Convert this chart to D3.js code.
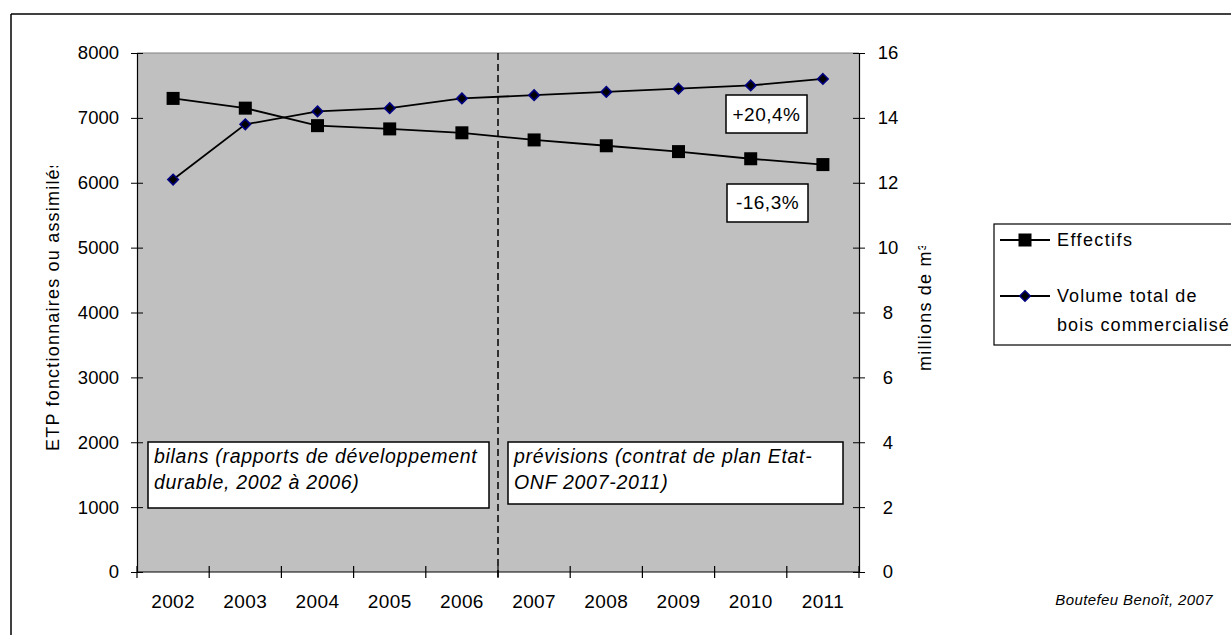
<!DOCTYPE html>
<html>
<head>
<meta charset="utf-8">
<script src="https://cdn.jsdelivr.net/npm/d3@7"></script>
<style>
  body { margin: 0; background: #fff; }
  svg { display: block; font-family: "Liberation Sans", Arial, sans-serif; }
</style>
</head>
<body>
<svg width="1231" height="635"></svg>
<script>
// data
const years = ["2002", "2003", "2004", "2005", "2006", "2007", "2008", "2009", "2010", "2011"];
const effectifs = [7300, 7150, 6880, 6830, 6770, 6660, 6570, 6480, 6370, 6280];
const volume = [12.1, 13.8, 14.2, 14.3, 14.6, 14.7, 14.8, 14.9, 15.0, 15.2];
const leftTicks = [0, 1000, 2000, 3000, 4000, 5000, 6000, 7000, 8000];
const rightTicks = [0, 2, 4, 6, 8, 10, 12, 14, 16];

const svg = d3.select("svg");
const pLeft = 137, pRight = 859, pTop = 53, pBottom = 572;

const x = d3.scaleBand().domain(years).range([pLeft, pRight]).padding(0);
const yL = d3.scaleLinear().domain([0, 8000]).range([pBottom, pTop]);
const yR = d3.scaleLinear().domain([0, 16]).range([pBottom, pTop]);

// outer frame (only top and left visible)
svg.append("line").attr("x1", 11).attr("x2", 1231).attr("y1", 14).attr("y2", 14)
  .attr("stroke", "#000").attr("stroke-width", 1.5);
svg.append("line").attr("x1", 11).attr("x2", 11).attr("y1", 14).attr("y2", 635)
  .attr("stroke", "#000").attr("stroke-width", 1.5);

// plot background
svg.append("rect")
  .attr("x", pLeft).attr("y", pTop)
  .attr("width", pRight - pLeft).attr("height", pBottom - pTop)
  .attr("fill", "#c0c0c0");
svg.append("line").attr("x1", pLeft).attr("x2", pRight).attr("y1", pTop).attr("y2", pTop)
  .attr("stroke", "#808080").attr("stroke-width", 1);

// axes
const fs = "18.5px";
const gL = svg.append("g").attr("transform", `translate(${pLeft},0)`)
  .call(d3.axisLeft(yL).tickValues(leftTicks).tickFormat(d3.format("d")).tickSize(6).tickPadding(12));
gL.selectAll(".tick line").attr("x1", 6);
gL.selectAll("text").attr("font-size", fs).attr("fill", "#000");

const gR = svg.append("g").attr("transform", `translate(${pRight},0)`)
  .call(d3.axisRight(yR).tickValues(rightTicks).tickSize(6).tickPadding(0));
gR.selectAll(".tick line").attr("x1", -6);
gR.selectAll("text").attr("font-size", fs).attr("fill", "#000")
  .attr("text-anchor", "middle").attr("x", 29);

const gB = svg.append("g").attr("transform", `translate(0,${pBottom})`)
  .call(d3.axisBottom(x).tickSize(0).tickPadding(23));
gB.selectAll("text").attr("font-size", "19px").attr("letter-spacing", "0.4px").attr("fill", "#000");
gB.select(".domain").remove();
svg.append("line").attr("x1", pLeft).attr("x2", pRight).attr("y1", pBottom).attr("y2", pBottom)
  .attr("stroke", "#000").attr("stroke-width", 1.2);
const bounds = years.map(d => x(d)).concat([pRight]);
svg.append("g").selectAll("line").data(bounds).join("line")
  .attr("x1", d => d).attr("x2", d => d)
  .attr("y1", pBottom - 6).attr("y2", pBottom + 6)
  .attr("stroke", "#000").attr("stroke-width", 1.2);
[gL, gR].forEach(g => g.select(".domain").attr("stroke-width", 1.2));
svg.selectAll(".tick text").attr("font-family", "Liberation Sans, Arial, sans-serif");

// separator between bilans and previsions
svg.append("line")
  .attr("x1", x("2007")).attr("x2", x("2007"))
  .attr("y1", pTop).attr("y2", pBottom + 6)
  .attr("stroke", "#000").attr("stroke-width", 1.5)
  .attr("stroke-dasharray", "7,4");

// axis titles (clipped like the original)
const defs = svg.append("defs");
defs.append("clipPath").attr("id", "clipL").append("rect")
  .attr("x", 0).attr("y", 166).attr("width", 120).attr("height", 469);
defs.append("clipPath").attr("id", "clipR").append("rect")
  .attr("x", 900).attr("y", 246).attr("width", 60).attr("height", 300);

svg.append("g").attr("clip-path", "url(#clipL)")
  .append("text")
  .attr("transform", "translate(59,451) rotate(-90)")
  .attr("font-size", "18px").attr("letter-spacing", "1.2px")
  .text("ETP fonctionnaires ou assimilés");
svg.append("g").attr("clip-path", "url(#clipR)")
  .append("text")
  .attr("transform", "translate(931,371) rotate(-90)")
  .attr("font-size", "18px").attr("letter-spacing", "1.2px")
  .text("millions de m³");

// lines
const lineL = d3.line().x((d, i) => x(years[i]) + x.bandwidth() / 2).y(d => yL(d));
const lineR = d3.line().x((d, i) => x(years[i]) + x.bandwidth() / 2).y(d => yR(d));

svg.append("path").datum(effectifs).attr("d", lineL)
  .attr("fill", "none").attr("stroke", "#000").attr("stroke-width", 1.8);
svg.append("path").datum(volume).attr("d", lineR)
  .attr("fill", "none").attr("stroke", "#000").attr("stroke-width", 1.8);

const sq = 13;
svg.append("g").selectAll("rect").data(effectifs).join("rect")
  .attr("x", (d, i) => x(years[i]) + x.bandwidth() / 2 - sq / 2)
  .attr("y", d => yL(d) - sq / 2)
  .attr("width", sq).attr("height", sq)
  .attr("fill", "#000");

const diamond = d3.symbol().type(d3.symbolDiamond2).size(70);
svg.append("g").selectAll("path").data(volume).join("path")
  .attr("transform", (d, i) => `translate(${x(years[i]) + x.bandwidth() / 2},${yR(d)})`)
  .attr("d", diamond)
  .attr("fill", "#000").attr("stroke", "#000080").attr("stroke-width", 1.6);

// text boxes
function box(x0, y0, w, h, lines, opts) {
  const g = svg.append("g");
  g.append("rect").attr("x", x0).attr("y", y0).attr("width", w).attr("height", h)
    .attr("fill", "#fff").attr("stroke", "#000").attr("stroke-width", 1.5);
  lines.forEach((t, i) => {
    g.append("text")
      .attr("x", opts.anchor === "middle" ? x0 + w / 2 : x0 + 6)
      .attr("y", y0 + opts.first + i * opts.step)
      .attr("text-anchor", opts.anchor || "start")
      .attr("font-size", opts.size)
      .attr("letter-spacing", opts.ls)
      .attr("font-style", opts.italic ? "italic" : "normal")
      .text(t);
  });
}
box(726, 95, 81, 38, ["+20,4%"], { anchor: "middle", first: 26, step: 0, size: "19px", ls: "0.5px" });
box(727, 184, 81, 38, ["-16,3%"], { anchor: "middle", first: 25, step: 0, size: "19px", ls: "0.5px" });
box(148, 442, 341, 66, ["bilans (rapports de développement", "durable, 2002 à 2006)"],
  { first: 21, step: 25.5, size: "19.5px", ls: "0.7px", italic: true });
box(508, 442, 335, 62, ["prévisions (contrat de plan Etat-", "ONF 2007-2011)"],
  { first: 21, step: 25.5, size: "19.5px", ls: "0.7px", italic: true });

// legend
const lg = svg.append("g");
lg.append("rect").attr("x", 994).attr("y", 224).attr("width", 250).attr("height", 121)
  .attr("fill", "#fff").attr("stroke", "#000").attr("stroke-width", 1.2);
lg.append("line").attr("x1", 1000).attr("x2", 1050).attr("y1", 240).attr("y2", 240)
  .attr("stroke", "#000").attr("stroke-width", 1.8);
lg.append("rect").attr("x", 1025 - sq / 2).attr("y", 240 - sq / 2).attr("width", sq).attr("height", sq)
  .attr("fill", "#000");
lg.append("text").attr("x", 1057).attr("y", 246).attr("font-size", "18px")
  .attr("letter-spacing", "1.4px").text("Effectifs");
lg.append("line").attr("x1", 1000).attr("x2", 1050).attr("y1", 296).attr("y2", 296)
  .attr("stroke", "#000").attr("stroke-width", 1.8);
lg.append("path").attr("transform", "translate(1025,296)").attr("d", diamond)
  .attr("fill", "#000").attr("stroke", "#000080").attr("stroke-width", 1.6);
lg.append("text").attr("x", 1057).attr("y", 302).attr("font-size", "18px")
  .attr("letter-spacing", "1.1px").text("Volume total de");
lg.append("text").attr("x", 1057).attr("y", 331).attr("font-size", "18px")
  .attr("letter-spacing", "1.1px").text("bois commercialisé");

// source
svg.append("text").attr("x", 1213).attr("y", 605).attr("text-anchor", "end")
  .attr("font-size", "15px").attr("letter-spacing", "0.4px").attr("font-style", "italic")
  .text("Boutefeu Benoît, 2007");
</script>
</body>
</html>
